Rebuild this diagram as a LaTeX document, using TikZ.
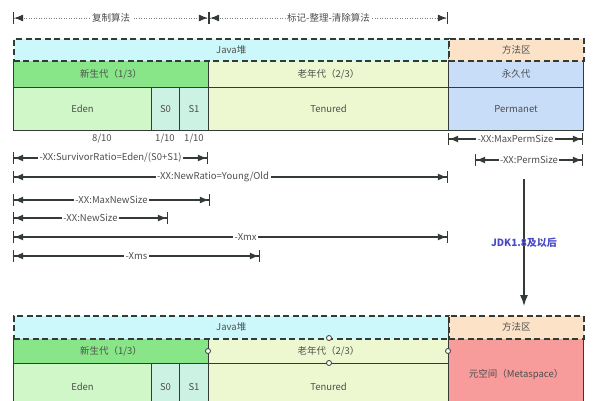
\documentclass[tikz,border=0pt]{standalone}
\usepackage{fontspec}
\setmainfont{Noto Sans CJK SC}
\usetikzlibrary{arrows.meta}
\definecolor{boxline}{HTML}{343A34}
\definecolor{labelgray}{HTML}{4E4E4E}
\definecolor{heapcyan}{HTML}{CCF8FC}
\definecolor{methodpeach}{HTML}{FCE3C8}
\definecolor{younggreen}{HTML}{88E688}
\definecolor{edengreen}{HTML}{D0F7C8}
\definecolor{survivor}{HTML}{CBF2E2}
\definecolor{oldyellow}{HTML}{EEF8D0}
\definecolor{permblue}{HTML}{C8DDF7}
\definecolor{metared}{HTML}{F79B9B}
\definecolor{jdkblue}{HTML}{4A4AC8}
\begin{document}
\begin{tikzpicture}[x=1pt,y=-1pt,font=\fontsize{9.5}{11}\selectfont,
  box/.style={draw=boxline, line width=1.1pt, text=labelgray, inner sep=0pt, anchor=north west},
  frame/.style={box, line width=1.5pt, dash pattern=on 6pt off 3.5pt},
  dimline/.style={draw=boxline, line width=1.2pt, {Bar[width=12pt,line width=1.2pt]Latex[length=9pt,width=7pt]}-{Latex[length=9pt,width=7pt]Bar[width=12pt,line width=1.2pt]}},
  algline/.style={draw=gray, line width=0.8pt, dash pattern=on 1pt off 1.5pt, {Bar[width=12pt,line width=1.2pt,color=boxline]Latex[length=9pt,width=7pt,color=boxline]}-{Latex[length=9pt,width=7pt,color=boxline]Bar[width=12pt,line width=1.2pt,color=boxline]}},
  dimtext/.style={fill=white, text=labelgray, inner sep=1.5pt},
  handle/.style={circle, draw=boxline, fill=white, line width=0.8pt, inner sep=0pt, minimum size=5pt}]
\useasboundingbox (0,0) rectangle (600,400);
\clip (0,0) rectangle (600,400);
% algorithms
\coordinate (g0) at (13,18);
\coordinate (g1) at (209,18);
\coordinate (g2) at (448,18);
\draw [algline] (g0) -- node [dimtext] {复制算法} (g1);
\draw [algline] (g1) -- node [dimtext] {标记-整理-清除算法} (g2);
% before JDK 1.8
\node [box, fill=younggreen, minimum width=195, minimum height=27] (young) at (13,60) {新生代（1/3）};
\node [box, fill=oldyellow, minimum width=240, minimum height=27] (old) at (208,60) {老年代（2/3）};
\node [box, fill=permblue, minimum width=135, minimum height=27] (perm) at (448,60) {永久代};
\node [box, fill=edengreen, minimum width=138, minimum height=43] (eden) at (13,87) {Eden};
\node [box, fill=survivor, minimum width=28, minimum height=43] (s0) at (151,87) {S0};
\node [box, fill=survivor, minimum width=29, minimum height=43] (s1) at (179,87) {S1};
\node [box, fill=oldyellow, minimum width=240, minimum height=43] (tenured) at (208,87) {Tenured};
\node [box, fill=permblue, minimum width=135, minimum height=43] (permanet) at (448,87) {Permanet};
\node [frame, fill=heapcyan, minimum width=435, minimum height=22] (heap) at (13,38) {Java堆};
\node [frame, fill=methodpeach, minimum width=135, minimum height=22] (method) at (448,38) {方法区};
\node [text=labelgray] (r1) at (102,139) {8/10};
\node [text=labelgray] (r2) at (165,139) {1/10};
\node [text=labelgray] (r3) at (194,139) {1/10};
% size options
\coordinate (a0) at (13,158);
\coordinate (a1) at (208,158);
\coordinate (b0) at (13,177);
\coordinate (b1) at (448,177);
\coordinate (c0) at (13,200);
\coordinate (c1) at (210,200);
\coordinate (d0) at (13,218);
\coordinate (d1) at (168,218);
\coordinate (e0) at (13,237);
\coordinate (e1) at (448,237);
\coordinate (f0) at (13,256);
\coordinate (f1) at (260,256);
\coordinate (p0) at (448,139);
\coordinate (p1) at (583,139);
\coordinate (q0) at (475,160);
\coordinate (q1) at (583,160);
\draw [dimline] (a0) -- node [dimtext] {-XX:SurvivorRatio=Eden/(S0+S1)} (a1);
\draw [dimline] (b0) -- node [dimtext, pos=0.46] {-XX:NewRatio=Young/Old} (b1);
\draw [dimline] (c0) -- node [dimtext] {-XX:MaxNewSize} (c1);
\draw [dimline] (d0) -- node [dimtext] {-XX:NewSize} (d1);
\draw [dimline] (e0) -- node [dimtext, pos=0.535] {-Xmx} (e1);
\draw [dimline] (f0) -- node [dimtext] {-Xms} (f1);
\draw [dimline] (p0) -- node [dimtext] {-XX:MaxPermSize} (p1);
\draw [dimline] (q0) -- node [dimtext] {-XX:PermSize} (q1);
% JDK 1.8
\coordinate (j0) at (524,179);
\coordinate (j1) at (524,306);
\draw [draw=boxline, line width=1.3pt, -{Latex[length=11pt,width=8pt]}] (j0) -- node [text=jdkblue, font=\fontsize{10}{11}\selectfont\bfseries] {JDK1.8及以后} (j1);
% after JDK 1.8
\node [box, fill=younggreen, minimum width=195, minimum height=25] (young2) at (13,338) {新生代（1/3）};
\node [box, fill=oldyellow, minimum width=240, minimum height=25] (old2) at (208,338) {老年代（2/3）};
\node [box, fill=metared, minimum width=135, minimum height=72] (meta) at (448,338) {元空间（Metaspace）};
\node [box, fill=edengreen, minimum width=138, minimum height=47] (eden2) at (13,363) {Eden};
\node [box, fill=survivor, minimum width=28, minimum height=47] (s02) at (151,363) {S0};
\node [box, fill=survivor, minimum width=29, minimum height=47] (s12) at (179,363) {S1};
\node [box, fill=oldyellow, minimum width=240, minimum height=47] (tenured2) at (208,363) {Tenured};
\node [frame, fill=heapcyan, minimum width=435, minimum height=23] (heap2) at (13,315) {Java堆};
\node [frame, fill=methodpeach, minimum width=135, minimum height=23] (method2) at (448,315) {方法区};
\node [handle] (h1) at (208,351) {};
\node [handle] (h2) at (329,338) {};
\node [handle] (h3) at (329,363) {};
\node [handle] (h4) at (448,351) {};
\end{tikzpicture}
\end{document}
